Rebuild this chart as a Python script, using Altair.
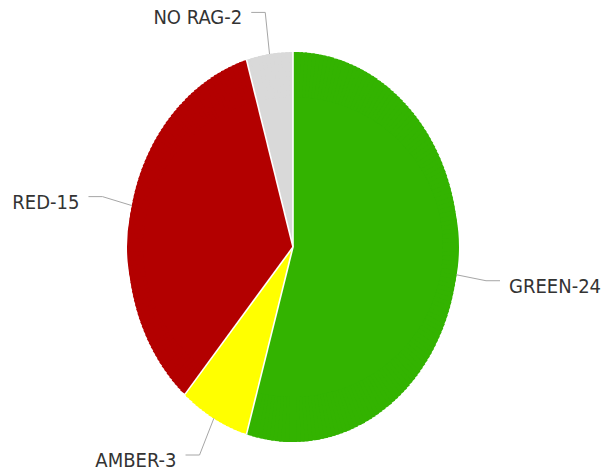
import altair as alt
import pandas as pd

# ---- data ----
cats = ["GREEN", "AMBER", "RED", "NO RAG"]
vals = [24, 3, 15, 2]
colors = ["#33b300", "#ffff00", "#b30000", "#d9d9d9"]

# ---- geometry / style constants ----
CX, CY = 293, 247      # pie centre (px)
A, B = 165, 195        # horizontal / vertical radius (elliptical pie)
DX, DY = 30, 42        # leader outward distance
H = 14                 # horizontal leader length
G = 9                  # gap between leader and label
STEPS = 6              # sub-arcs per unit, to draw the ellipse rim
OVER = 0.012           # small overlap between sub-arcs (rad) to hide seams
INNER = 150            # inner radius of the rim sub-arcs

base = pd.DataFrame({"cat": cats, "value": vals})
base["start"] = base["value"].cumsum() - base["value"]
base["total"] = base["value"].sum()
base["label"] = base["cat"] + "-" + base["value"].astype(str)

expanded = base.loc[base.index.repeat(base["value"] * STEPS)].copy()
expanded["step"] = expanded.groupby("cat").cumcount()
expanded["nsteps"] = expanded["value"] * STEPS

color_scale = alt.Scale(domain=cats, range=colors)


def vis(name, phi):
    """expressions converting a parametric angle to the visual angle on the ellipse"""
    return {
        name + "_r": f"atan2({A}*sin({phi}), {B}*cos({phi}))",
        name: f"datum.{name}_r < 0 ? datum.{name}_r + 2*PI : datum.{name}_r",
    }


geo = alt.Chart(base).transform_calculate(
    phib="2*PI*datum.start/datum.total",
    phie="2*PI*(datum.start + datum.value)/datum.total",
    **vis("psS", "datum.phib"),
    **vis("psEa", "datum.phie"),
).transform_calculate(
    psE="datum.psEa <= datum.psS ? datum.psEa + 2*PI : datum.psEa",
    bx=f"{CX} + {A}*sin(datum.phib)",
    by=f"{CY} - {B}*cos(datum.phib)",
    phim="2*PI*(datum.start + datum.value/2)/datum.total",
    side="sin(datum.phim) >= 0 ? 1 : -1",
    px=f"{CX} + {A}*sin(datum.phim)",
    py=f"{CY} - {B}*cos(datum.phim)",
    lx=f"{CX} + {A + DX}*sin(datum.phim)",
    ly=f"{CY} - {B + DY}*cos(datum.phim)",
    hx=f"datum.lx + datum.side*{H}",
    tx=f"datum.hx + datum.side*{G}",
    ty="datum.ly + 6",
)

# solid core of each slice (circle of the small radius)
core = geo.mark_arc(strokeWidth=0).encode(
    theta=alt.Theta("psS:Q", scale=None, stack=None),
    theta2=alt.Theta2("psE:Q"),
    radius=alt.value(A + 1),
    color=alt.Color("cat:N", scale=color_scale, legend=None),
    x=alt.value(CX),
    y=alt.value(CY),
)

# elliptical rim built of thin sub-arcs
rim = alt.Chart(expanded).transform_calculate(
    phi0="2*PI*(datum.start + datum.value*datum.step/datum.nsteps)/datum.total",
    phi1="2*PI*(datum.start + datum.value*(datum.step+1)/datum.nsteps)/datum.total",
    **vis("psi0", "datum.phi0"),
    **vis("psi1a", "datum.phi1"),
).transform_calculate(
    psi1="datum.psi1a < datum.psi0 ? datum.psi1a + 2*PI : datum.psi1a",
    psim="(datum.psi0 + datum.psi1)/2",
    psi1o=f"datum.step < datum.nsteps - 1 ? datum.psi1 + {OVER} : datum.psi1",
    rad=f"{A}*{B}/sqrt(pow({B}*sin(datum.psim),2) + pow({A}*cos(datum.psim),2))",
).mark_arc(strokeWidth=0).encode(
    theta=alt.Theta("psi0:Q", scale=None, stack=None),
    theta2=alt.Theta2("psi1o:Q"),
    radius=alt.Radius("rad:Q", scale=None),
    radius2=alt.value(INNER),
    color=alt.Color("cat:N", scale=color_scale, legend=None),
    x=alt.value(CX),
    y=alt.value(CY),
)

borders = geo.mark_rule(color="white", strokeWidth=1.6).encode(
    x=alt.X("bx:Q", scale=None, axis=None),
    y=alt.Y("by:Q", scale=None, axis=None),
    x2=alt.value(CX),
    y2=alt.value(CY),
)

lead1 = geo.mark_rule(color="#a6a6a6", strokeWidth=1).encode(
    x=alt.X("px:Q", scale=None, axis=None),
    y=alt.Y("py:Q", scale=None, axis=None),
    x2="lx:Q",
    y2="ly:Q",
)
lead2 = geo.mark_rule(color="#a6a6a6", strokeWidth=1).encode(
    x=alt.X("lx:Q", scale=None, axis=None),
    y=alt.Y("ly:Q", scale=None, axis=None),
    x2="hx:Q",
    y2="ly:Q",
)

txt_style = dict(baseline="middle", font="DejaVu Sans Condensed", fontSize=20, color="#333333")
text_r = geo.transform_filter("datum.side > 0").mark_text(align="left", **txt_style).encode(
    x=alt.X("tx:Q", scale=None, axis=None),
    y=alt.Y("ty:Q", scale=None, axis=None),
    text="label:N",
)
text_l = geo.transform_filter("datum.side < 0").mark_text(align="right", **txt_style).encode(
    x=alt.X("tx:Q", scale=None, axis=None),
    y=alt.Y("ty:Q", scale=None, axis=None),
    text="label:N",
)

chart = alt.layer(core, rim, borders, lead1, lead2, text_r, text_l).properties(
    width=610, height=476, autosize="none", padding=0
).configure_view(stroke=None)

chart.save("out.html", embed_options={"renderer": "svg", "actions": False})
